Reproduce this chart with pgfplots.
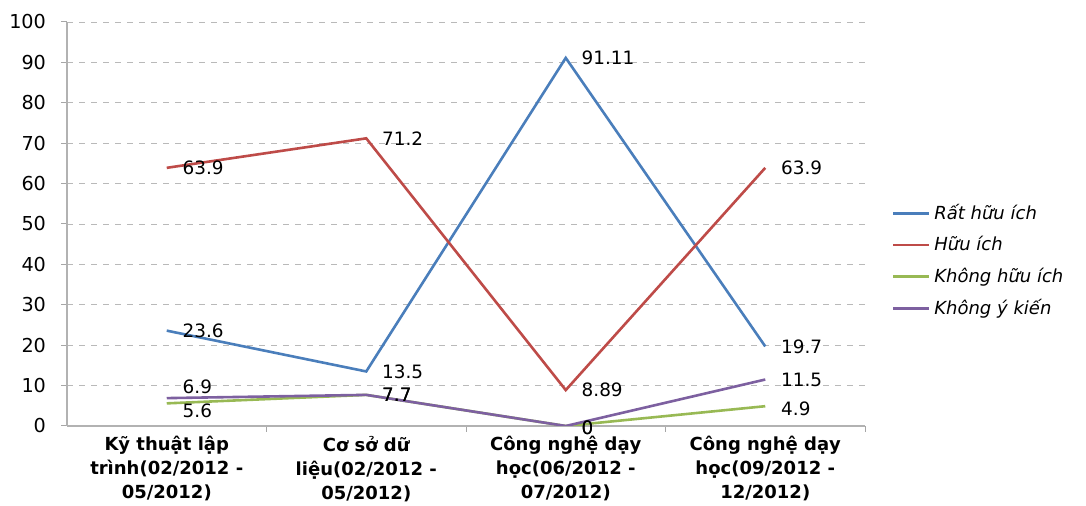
\documentclass[border=0pt]{standalone}
\usepackage{pgfplots}
\pgfplotsset{compat=1.18}
\usepackage{pgfplotstable}
\usepackage{fontspec}
\setmainfont{DejaVu Sans}
\definecolor{cblue}{RGB}{74,126,187}
\definecolor{cred}{RGB}{190,75,72}
\definecolor{cgreen}{RGB}{152,185,84}
\definecolor{cpurple}{RGB}{125,96,160}

\pgfplotstableread{
x y lab dy
0 23.6 23.6 0
1 13.5 13.5 0
2 91.11 91.11 0
3 19.7 19.7 0
}\tblue
\pgfplotstableread{
x y lab dy
0 63.9 63.9 0
1 71.2 71.2 0
2 8.89 8.89 0
3 63.9 63.9 0
}\tred
\pgfplotstableread{
x y lab dy
0 5.6 5.6 -3.5
1 7.7 7.7 0
2 0 0 -1
3 4.9 4.9 -1.5
}\tgreen
\pgfplotstableread{
x y lab dy
0 6.9 6.9 5.5
1 7.7 7.7 0
2 0 0 -1
3 11.5 11.5 0
}\tpurple

\begin{document}
\begin{tikzpicture}
\path[use as bounding box] (-33.5pt,-40pt) rectangle (509.5pt,213pt);
\begin{axis}[
  at={(0,0)}, anchor=south west,
  scale only axis, width=399pt, height=202pt,
  xmin=-0.5, xmax=3.5, ymin=0, ymax=100,
  ytick={0,10,...,100},
  xtick={0,1,2,3},
  xticklabels={{Kỹ thuật lập\\trình(02/2012 -\\05/2012)},{Cơ sở dữ\\liệu(02/2012 -\\05/2012)},{Công nghệ dạy\\học(06/2012 -\\07/2012)},{Công nghệ dạy\\học(09/2012 -\\12/2012)}},
  xticklabel style={align=center, font=\fontsize{9}{12}\selectfont\bfseries, yshift=1.5pt},
  yticklabel style={font=\fontsize{9.6}{11}\selectfont, xshift=-4pt},
  /pgf/number format/assume math mode=true,
  minor xtick={0.5,1.5,2.5,3.5},
  major x tick style={draw=none},
  tick align=outside,
  major tick length=3pt, minor tick length=3pt,
  tick style={gray!70, line width=0.5pt},
  axis x line*=bottom, axis y line*=left,
  axis line style={gray!60, line width=0.6pt, -},
  ymajorgrids, grid style={gray!55, dashed, line width=0.4pt},
  every axis plot/.append style={line width=1.3pt, sharp plot, no marks},
  nodes near coords,
  point meta=explicit symbolic,
  visualization depends on={\thisrow{dy} \as \dy},
  every node near coord/.append style={font=\fontsize{9.2}{10}\selectfont, text=black, anchor=west, xshift=4pt, yshift=\dy pt},
  legend cell align=left,
  legend style={draw=none, fill=none, at={(1.033,0.56)}, anchor=north west, font=\fontsize{9}{10}\selectfont\itshape, row sep=3pt, inner sep=0pt},
  legend image code/.code={\draw[#1] (0pt,0pt) -- (18pt,0pt);},
]
\addplot[cblue] table[x=x, y=y, meta=lab] {\tblue};
\addlegendentry{Rất hữu ích}
\addplot[cred] table[x=x, y=y, meta=lab] {\tred};
\addlegendentry{Hữu ích}
\addplot[cgreen] table[x=x, y=y, meta=lab] {\tgreen};
\addlegendentry{Không hữu ích}
\addplot[cpurple] table[x=x, y=y, meta=lab] {\tpurple};
\addlegendentry{Không ý kiến}
\end{axis}
\end{tikzpicture}
\end{document}
